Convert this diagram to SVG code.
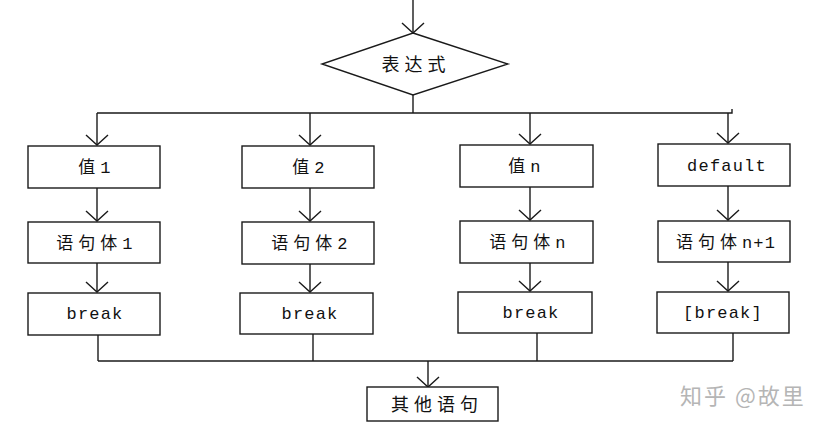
<svg xmlns="http://www.w3.org/2000/svg" width="831" height="428" viewBox="0 0 831 428">
<style>
.box{fill:#fff;stroke:#1a1a1a;stroke-width:1.4}
.ln{fill:none;stroke:#1a1a1a;stroke-width:1.4}
.t{font-family:"Liberation Mono","Noto Sans CJK SC",monospace;font-size:17px;fill:#111;text-anchor:middle;letter-spacing:1.2px}
.k{font-family:"Noto Sans CJK SC",sans-serif;font-size:17px;letter-spacing:5px}
.c{font-family:"Noto Sans CJK SC",sans-serif;font-size:18px;fill:#111;text-anchor:middle;letter-spacing:5px}
.wm{font-family:"Noto Sans CJK SC",sans-serif;font-size:22px;fill:#b5b5b5;letter-spacing:2px}
</style>
<defs>
<marker id="v" markerUnits="userSpaceOnUse" markerWidth="24" markerHeight="24" viewBox="-12 -12 24 24" refX="0" refY="0" orient="auto" overflow="visible">
<path d="M-10,-11 L0,0 L-10,11" fill="none" stroke="#1a1a1a" stroke-width="1.4"/>
</marker>
</defs>
<rect width="831" height="428" fill="#fff"/>
<g id="connectors">
<line class="ln" x1="413" y1="0" x2="413" y2="33" marker-end="url(#v)"/>
<line class="ln" x1="413" y1="95" x2="413" y2="113"/>
<polyline class="ln" points="97,113 732,113 732,109"/>
<line class="ln" x1="97" y1="113" x2="97" y2="145" marker-end="url(#v)"/>
<line class="ln" x1="310" y1="113" x2="310" y2="145" marker-end="url(#v)"/>
<line class="ln" x1="530" y1="113" x2="530" y2="144" marker-end="url(#v)"/>
<line class="ln" x1="728" y1="113" x2="728" y2="143" marker-end="url(#v)"/>
<line class="ln" x1="97" y1="188" x2="97" y2="221" marker-end="url(#v)"/>
<line class="ln" x1="97" y1="263" x2="97" y2="292" marker-end="url(#v)"/>
<line class="ln" x1="310" y1="188" x2="310" y2="221" marker-end="url(#v)"/>
<line class="ln" x1="310" y1="264" x2="310" y2="292" marker-end="url(#v)"/>
<line class="ln" x1="530" y1="187" x2="530" y2="220" marker-end="url(#v)"/>
<line class="ln" x1="530" y1="263" x2="530" y2="291" marker-end="url(#v)"/>
<line class="ln" x1="728" y1="186" x2="728" y2="220" marker-end="url(#v)"/>
<line class="ln" x1="728" y1="262" x2="728" y2="291" marker-end="url(#v)"/>
<line class="ln" x1="98" y1="335" x2="98" y2="361"/>
<line class="ln" x1="313" y1="334" x2="313" y2="361"/>
<line class="ln" x1="537" y1="333" x2="537" y2="361"/>
<line class="ln" x1="733" y1="333" x2="733" y2="361"/>
<line class="ln" x1="98" y1="361" x2="733" y2="361"/>
<line class="ln" x1="428" y1="361" x2="428" y2="387" marker-end="url(#v)"/>
</g>
<g id="expr">
<polygon class="box" points="413,33 508,64 413,95 322,64"/>
<text class="c" x="416" y="71">表达式</text>
</g>
<g id="val1"><rect class="box" x="28" y="146" width="132" height="42"/><text class="t" x="95" y="173"><tspan class="k">值</tspan>1</text></g>
<g id="body1"><rect class="box" x="28" y="222" width="132" height="41"/><text class="t" x="95" y="249"><tspan class="k">语句体</tspan>1</text></g>
<g id="break1"><rect class="box" x="28" y="293" width="132" height="42"/><text class="t" x="95" y="319">break</text></g>
<g id="val2"><rect class="box" x="242" y="146" width="132" height="42"/><text class="t" x="309" y="173"><tspan class="k">值</tspan>2</text></g>
<g id="body2"><rect class="box" x="242" y="222" width="132" height="42"/><text class="t" x="310" y="249"><tspan class="k">语句体</tspan>2</text></g>
<g id="break2"><rect class="box" x="240" y="293" width="133" height="41"/><text class="t" x="310" y="319">break</text></g>
<g id="valn"><rect class="box" x="460" y="145" width="133" height="42"/><text class="t" x="525" y="172"><tspan class="k">值</tspan>n</text></g>
<g id="bodyn"><rect class="box" x="460" y="221" width="133" height="42"/><text class="t" x="528" y="248"><tspan class="k">语句体</tspan>n</text></g>
<g id="breakn"><rect class="box" x="458" y="292" width="134" height="41"/><text class="t" x="531" y="318">break</text></g>
<g id="default"><rect class="box" x="658" y="144" width="132" height="42"/><text class="t" x="727" y="171">default</text></g>
<g id="bodyn1"><rect class="box" x="658" y="221" width="132" height="41"/><text class="t" x="726" y="248"><tspan class="k">语句体</tspan>n+1</text></g>
<g id="breakopt"><rect class="box" x="657" y="292" width="132" height="41"/><text class="t" x="723" y="318">[break]</text></g>
<g id="other"><rect class="box" x="367" y="387" width="131" height="34"/><text class="c" x="437" y="411">其他语句</text></g>
<text class="wm" x="680" y="404">知乎 @故里</text>
</svg>
